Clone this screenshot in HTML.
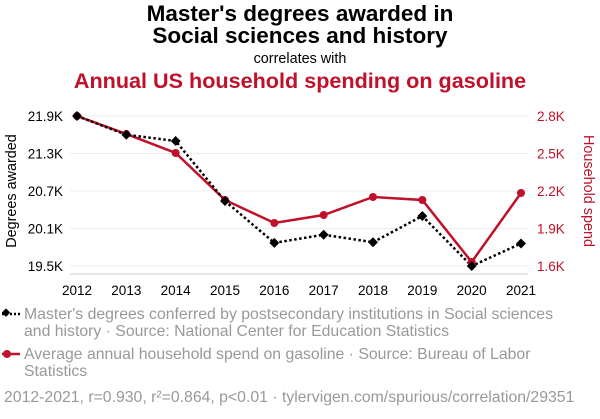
<!DOCTYPE html>
<html><head><meta charset="utf-8"><style>
body{margin:0;background:#fff;width:600px;height:414px;overflow:hidden;font-family:"Liberation Sans",sans-serif}
</style></head><body>
<svg width="600" height="414" xmlns="http://www.w3.org/2000/svg" font-family="Liberation Sans, sans-serif">
<text x="300" y="21" text-anchor="middle" font-size="22.5" font-weight="bold" fill="#000">Master's degrees awarded in</text>
<text x="300" y="43" text-anchor="middle" font-size="22.5" font-weight="bold" fill="#000">Social sciences and history</text>
<text x="300" y="63" text-anchor="middle" font-size="14.4" fill="#000">correlates with</text>
<text x="300" y="88" text-anchor="middle" font-size="21.6" font-weight="bold" fill="#c0102a">Annual US household spending on gasoline</text>
<g id="grid"></g><g id="axes"></g><g id="marks"></g>
<text transform="translate(16,191) rotate(-90)" text-anchor="middle" font-size="14.4" fill="#000">Degrees awarded</text>
<text transform="translate(584,191) rotate(90)" text-anchor="middle" font-size="14.4" fill="#c0102a">Household spend</text>
<g>
<line x1="2" y1="314" x2="20" y2="314" stroke="#000" stroke-width="2.5" stroke-dasharray="2,2"/>
<rect x="2" y="310" width="6" height="6" transform="rotate(45 6 314)" fill="#000"/>
<text x="24" y="319" font-size="15.8" fill="#999">Master's degrees conferred by postsecondary institutions in Social sciences</text>
<text x="24" y="336" font-size="15.8" fill="#999">and history · Source: National Center for Education Statistics</text>
</g>
<g>
<line x1="2" y1="354" x2="20" y2="354" stroke="#c0102a" stroke-width="2.5"/>
<circle cx="7" cy="354" r="4" fill="#c0102a"/>
<text x="24" y="359" font-size="15.8" fill="#999">Average annual household spend on gasoline · Source: Bureau of Labor</text>
<text x="24" y="376" font-size="15.8" fill="#999">Statistics</text>
</g>
<text x="4" y="402" font-size="15.8" fill="#999">2012-2021, r=0.930, r²=0.864, p&lt;0.01 · tylervigen.com/spurious/correlation/29351</text>
</svg>
<script>
const years=[2012,2013,2014,2015,2016,2017,2018,2019,2020,2021];
const degrees=[21.9,21.6,21.5,20.54,19.87,20.0,19.88,20.3,19.5,19.86];
const gasoline=[2.8,2.656,2.504,2.128,1.944,2.008,2.152,2.128,1.632,2.184];
const leftTicks=[19.5,20.1,20.7,21.3,21.9];
const leftLabels=["19.5K","20.1K","20.7K","21.3K","21.9K"];
const rightTicks=[1.6,1.9,2.2,2.5,2.8];
const rightLabels=["1.6K","1.9K","2.2K","2.5K","2.8K"];
const NS="http://www.w3.org/2000/svg";
const x=i=>77+(521-77)*i/(years.length-1);
const yL=v=>266-(v-19.5)/(21.9-19.5)*150;
const yR=v=>266-(v-1.6)/(2.8-1.6)*150;
function mk(t,a,p){const e=document.createElementNS(NS,t);for(const k in a)e.setAttribute(k,a[k]);p.appendChild(e);return e;}
const grid=document.getElementById('grid'),axes=document.getElementById('axes'),marks=document.getElementById('marks');
leftTicks.forEach((v,i)=>{
 const g=mk('line',{x1:70,x2:528,y1:yL(v),y2:yL(v),stroke:'#eee'},grid);
 
 
 const t=mk('text',{x:63,y:yL(v)+5,'text-anchor':'end','font-size':13.5,fill:'#000'},axes);t.textContent=leftLabels[i];
 
 
});
rightTicks.forEach((v,i)=>{
 const t=mk('text',{x:537,y:yR(v)+5,'font-size':13.5,fill:'#c0102a'},axes);t.textContent=rightLabels[i];
 
 
});
const base=mk('line',{x1:70,x2:528,y1:274,y2:274,stroke:'#ccc'},axes);


years.forEach((yr,i)=>{
 const t=mk('text',{x:x(i),y:295,'text-anchor':'middle','font-size':13.5,fill:'#000'},axes);t.textContent=yr;
 
 
});
const rl=mk('polyline',{points:gasoline.map((v,i)=>x(i)+','+yR(v)).join(' '),fill:'none',stroke:'#c0102a','stroke-width':2.5},marks);


const bl=mk('polyline',{points:degrees.map((v,i)=>x(i)+','+yL(v)).join(' '),fill:'none',stroke:'#000','stroke-width':2.5,'stroke-dasharray':'2.5,2.5'},marks);


gasoline.forEach((v,i)=>{
 const c=mk('circle',{cx:x(i),cy:yR(v),r:4,fill:'#c0102a'},marks);
 
 
});
degrees.forEach((v,i)=>{
 const r=mk('rect',{x:x(i)-3.5,y:yL(v)-3.5,width:7,height:7,fill:'#000',transform:`rotate(45 ${x(i)} ${yL(v)})`},marks);
 
 
});
</script>
</body></html>
